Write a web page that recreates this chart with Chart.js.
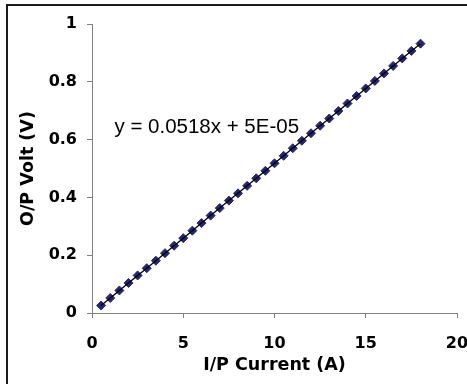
<!DOCTYPE html>
<html>
<head>
<meta charset="utf-8">
<title>O/P Volt vs I/P Current</title>
<script src="https://cdn.jsdelivr.net/npm/chart.js"></script>
<style>
  html, body { margin: 0; padding: 0; background: #fff; overflow: hidden; }
  #wrap { position: relative; width: 467px; height: 384px; }
  #frame {
    position: absolute; left: 6px; top: 4px; width: 500px; height: 500px;
    border: 2px solid #1a1a1a; pointer-events: none;
  }
</style>
</head>
<body>
<div id="wrap">
  <canvas id="chart" width="467" height="384"></canvas>
  <div id="frame"></div>
</div>
<script>
  // I/P current (A) and measured O/P voltage (V)
  const current = [0.5, 1, 1.5, 2, 2.5, 3, 3.5, 4, 4.5, 5, 5.5, 6, 6.5, 7, 7.5, 8, 8.5, 9,
                   9.5, 10, 10.5, 11, 11.5, 12, 12.5, 13, 13.5, 14, 14.5, 15, 15.5, 16, 16.5, 17, 17.5, 18];
  const volt = [0.026, 0.052, 0.078, 0.104, 0.130, 0.155, 0.181, 0.207, 0.233, 0.259, 0.285, 0.311,
                0.337, 0.363, 0.389, 0.414, 0.440, 0.466, 0.492, 0.518, 0.544, 0.570, 0.596, 0.622,
                0.648, 0.673, 0.699, 0.725, 0.751, 0.777, 0.803, 0.829, 0.855, 0.881, 0.907, 0.932];
  const xTicks = [0, 5, 10, 15, 20];
  const yTicks = [0, 0.2, 0.4, 0.6, 0.8, 1];
  const equation = "y = 0.0518x + 5E-05";

  const points = current.map((x, i) => ({ x, y: volt[i] }));

  const boldFont = { family: "'DejaVu Sans', sans-serif", weight: "bold", size: 16 };
  const titleFont = { family: "'DejaVu Sans', sans-serif", weight: "bold", size: 17.5 };

  const equationLabel = {
    id: "equationLabel",
    afterDatasetsDraw(chart) {
      const { ctx, scales } = chart;
      ctx.save();
      ctx.font = "20.5px 'Liberation Sans', Arial, sans-serif";
      ctx.fillStyle = "#000";
      ctx.textBaseline = "middle";
      ctx.fillText(equation, scales.x.getPixelForValue(1.23), scales.y.getPixelForValue(0.644));
      ctx.restore();
    }
  };

  new Chart(document.getElementById("chart").getContext("2d"), {
    type: "scatter",
    data: {
      datasets: [
        {
          // trend line drawn over the markers
          data: points,
          showLine: true,
          borderColor: "#000",
          borderWidth: 1.3,
          pointRadius: 0
        },
        {
          data: points,
          showLine: false,
          pointStyle: "rectRot",
          pointRadius: 4.5,
          backgroundColor: "#26266e",
          borderColor: "#26266e",
          borderWidth: 1
        }
      ]
    },
    options: {
      responsive: false,
      animation: false,
      layout: { padding: { left: 0, top: 24, right: 0, bottom: 0 } },
      plugins: { legend: { display: false }, tooltip: { enabled: false } },
      scales: {
        x: {
          type: "linear",
          min: 0, max: 20,
          afterBuildTicks(scale) { scale.ticks = xTicks.map(v => ({ value: v })); },
          afterFit(scale) {
            scale.height = 71;
            scale.paddingLeft = 0;
            scale.paddingRight = 10;
          },
          border: { color: "#808080", width: 1 },
          grid: { drawOnChartArea: false, drawTicks: true, tickLength: 5, color: "#808080" },
          ticks: { color: "#000", font: boldFont, padding: 16, maxRotation: 0 },
          title: { display: true, text: "I/P Current (A)", color: "#000", font: titleFont, padding: { top: 0, bottom: 8 } }
        },
        y: {
          type: "linear",
          min: 0, max: 1,
          afterBuildTicks(scale) { scale.ticks = yTicks.map(v => ({ value: v })); },
          afterFit(scale) {
            scale.width = 92;
            scale.paddingTop = 0;
            scale.paddingBottom = 0;
          },
          border: { color: "#808080", width: 1 },
          grid: { drawOnChartArea: false, drawTicks: true, tickLength: 5, color: "#808080" },
          ticks: { color: "#000", font: boldFont, padding: 10, callback: v => String(v) },
          title: { display: true, text: "O/P Volt (V)", color: "#000", font: titleFont, padding: { top: 18, bottom: 0 } }
        }
      }
    },
    plugins: [equationLabel]
  });
</script>
</body>
</html>
